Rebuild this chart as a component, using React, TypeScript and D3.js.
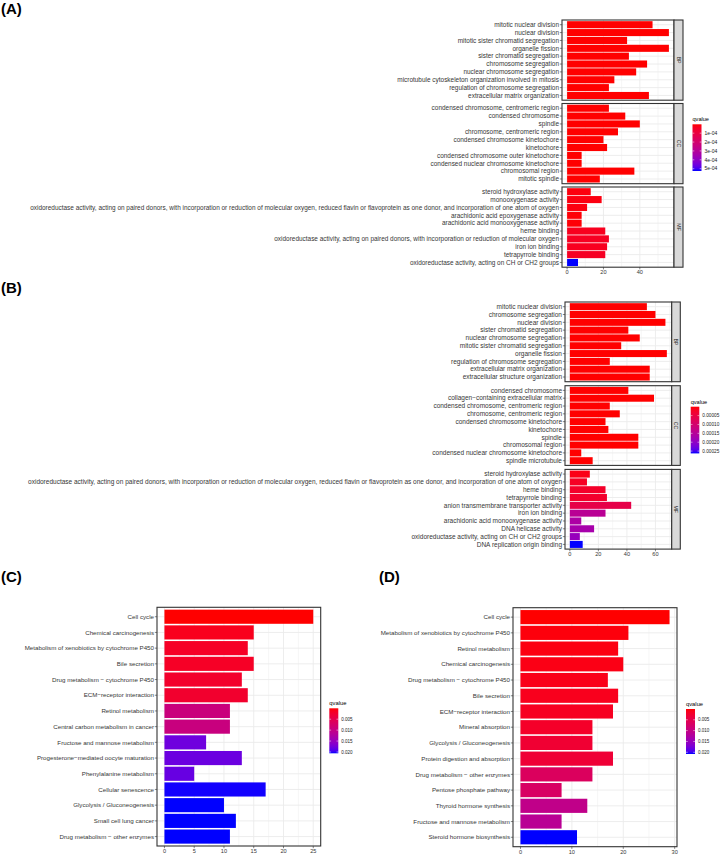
import * as d3 from "d3"

const FONT = "'Liberation Sans', Arial, Helvetica, sans-serif"
const GRID = "#EBEBEB"
const BORDER = "#333333"
const AXIS_TXT = "#363636"

// ---- (A) GO enrichment ----
const aBpTerms = [
  "mitotic nuclear division",
  "nuclear division",
  "mitotic sister chromatid segregation",
  "organelle fission",
  "sister chromatid segregation",
  "chromosome segregation",
  "nuclear chromosome segregation",
  "microtubule cytoskeleton organization involved in mitosis",
  "regulation of chromosome segregation",
  "extracellular matrix organization",
]
const aBpCounts = [47, 56, 33, 56, 34, 44, 38, 26, 23, 45]
const aBpQ = [1e-20, 1e-20, 1e-18, 1e-18, 1e-17, 1e-16, 1e-15, 1e-12, 1e-11, 1e-13]

const aCcTerms = [
  "condensed chromosome, centromeric region",
  "condensed chromosome",
  "spindle",
  "chromosome, centromeric region",
  "condensed chromosome kinetochore",
  "kinetochore",
  "condensed chromosome outer kinetochore",
  "condensed nuclear chromosome kinetochore",
  "chromosomal region",
  "mitotic spindle",
]
const aCcCounts = [23, 32, 40, 28, 20, 22, 8, 8, 37, 18]
const aCcQ = [1e-14, 1e-14, 1e-13, 1e-13, 1e-12, 1e-12, 1e-9, 1e-9, 1e-9, 1e-8]

const aMfTerms = [
  "steroid hydroxylase activity",
  "monooxygenase activity",
  "oxidoreductase activity, acting on paired donors, with incorporation or reduction of molecular oxygen, reduced flavin or flavoprotein as one donor, and incorporation of one atom of oxygen",
  "arachidonic acid epoxygenase activity",
  "arachidonic acid monooxygenase activity",
  "heme binding",
  "oxidoreductase activity, acting on paired donors, with incorporation or reduction of molecular oxygen",
  "iron ion binding",
  "tetrapyrrole binding",
  "oxidoreductase activity, acting on CH or CH2 groups",
]
const aMfCounts = [13, 19, 11, 8, 8, 21, 23, 22, 21, 6]
const aMfQ = [1.2e-5, 1.5e-5, 1.4e-5, 6e-6, 6e-6, 3.2e-5, 3.8e-5, 3.6e-5, 4.2e-5, 5.26e-4]

const aTicks = [0, 20, 40]
const aLegendTicks = [1e-4, 2e-4, 3e-4, 4e-4, 5e-4]
const aLegendLabels = ["1e-04", "2e-04", "3e-04", "4e-04", "5e-04"]

// ---- (B) GO enrichment ----
const bBpTerms = [
  "mitotic nuclear division",
  "chromosome segregation",
  "nuclear division",
  "sister chromatid segregation",
  "nuclear chromosome segregation",
  "mitotic sister chromatid segregation",
  "organelle fission",
  "regulation of chromosome segregation",
  "extracellular matrix organization",
  "extracellular structure organization",
]
const bBpCounts = [54, 60, 67, 41, 49, 36, 68, 28, 56, 56]
const bBpQ = [1e-20, 1e-20, 1e-19, 1e-18, 1e-18, 1e-17, 1e-17, 1e-15, 1e-14, 1e-14]

const bCcTerms = [
  "condensed chromosome",
  "collagen\u2212containing extracellular matrix",
  "condensed chromosome, centromeric region",
  "chromosome, centromeric region",
  "condensed chromosome kinetochore",
  "kinetochore",
  "spindle",
  "chromosomal region",
  "condensed nuclear chromosome kinetochore",
  "spindle microtubule",
]
const bCcCounts = [41, 59, 28, 35, 25, 27, 48, 48, 8, 16]
const bCcQ = [1e-13, 1e-13, 1e-12, 1e-12, 1e-11, 1e-11, 1e-10, 1e-10, 1e-8, 1e-8]

const bMfTerms = [
  "steroid hydroxylase activity",
  "oxidoreductase activity, acting on paired donors, with incorporation or reduction of molecular oxygen, reduced flavin or flavoprotein as one donor, and incorporation of one atom of oxygen",
  "heme binding",
  "tetrapyrrole binding",
  "anion transmembrane transporter activity",
  "iron ion binding",
  "arachidonic acid monooxygenase activity",
  "DNA helicase activity",
  "oxidoreductase activity, acting on CH or CH2 groups",
  "DNA replication origin binding",
]
const bMfCounts = [14, 12, 25, 26, 43, 25, 8, 17, 7, 9]
const bMfQ = [1.05e-5, 2.1e-5, 2.6e-5, 2.9e-5, 5.8e-5, 1.45e-4, 1.63e-4, 1.71e-4, 1.9e-4, 2.63e-4]

const bTicks = [0, 20, 40, 60]
const bLegendTicks = [5e-5, 1e-4, 1.5e-4, 2e-4, 2.5e-4]
const bLegendLabels = ["0.00005", "0.00010", "0.00015", "0.00020", "0.00025"]

// ---- (C) KEGG ----
const cTerms = [
  "Cell cycle",
  "Chemical carcinogenesis",
  "Metabolism of xenobiotics by cytochrome P450",
  "Bile secretion",
  "Drug metabolism \u2212 cytochrome P450",
  "ECM\u2212receptor interaction",
  "Retinol metabolism",
  "Central carbon metabolism in cancer",
  "Fructose and mannose metabolism",
  "Progesterone\u2212mediated oocyte maturation",
  "Phenylalanine metabolism",
  "Cellular senescence",
  "Glycolysis / Gluconeogenesis",
  "Small cell lung cancer",
  "Drug metabolism \u2212 other enzymes",
]
const cCounts = [25, 15, 14, 15, 13, 14, 11, 11, 7, 13, 5, 17, 10, 12, 11]
const cQ = [0.00001, 0.0012, 0.0018, 0.0018, 0.0022, 0.0024, 0.0092, 0.0094, 0.0178, 0.018, 0.0182, 0.0205, 0.0206, 0.0206, 0.0206]
const cTicks = [0, 5, 10, 15, 20, 25]

// ---- (D) KEGG ----
const dTerms = [
  "Cell cycle",
  "Metabolism of xenobiotics by cytochrome P450",
  "Retinol metabolism",
  "Chemical carcinogenesis",
  "Drug metabolism \u2212 cytochrome P450",
  "Bile secretion",
  "ECM\u2212receptor interaction",
  "Mineral absorption",
  "Glycolysis / Gluconeogenesis",
  "Protein digestion and absorption",
  "Drug metabolism \u2212 other enzymes",
  "Pentose phosphate pathway",
  "Thyroid hormone synthesis",
  "Fructose and mannose metabolism",
  "Steroid hormone biosynthesis",
]
const dCounts = [29, 21, 19, 20, 17, 19, 18, 14, 14, 18, 14, 8, 13, 8, 11]
const dQ = [0.00001, 0.0004, 0.0006, 0.0008, 0.001, 0.0012, 0.0015, 0.002, 0.0028, 0.003, 0.0065, 0.007, 0.0105, 0.0115, 0.0208]
const dTicks = [0, 10, 20, 30]
const kLegendTicks = [0.005, 0.01, 0.015, 0.02]
const kLegendLabels = ["0.005", "0.010", "0.015", "0.020"]

type Facet = { name: string; terms: string[]; counts: number[]; q: number[] }

function qColor(domain: [number, number]) {
  return d3.scaleLinear<string>()
    .domain(domain)
    .range(["#FF0000", "#0000FF"])
    .interpolate(d3.interpolateLab)
    .clamp(true)
}

function BarChart({ facets, x0, x1, top, panelH, gap, ticks, strip, stripW, labelSize, tickSize, qDomain }: {
  facets: Facet[]; x0: number; x1: number; top: number; panelH: number; gap: number
  ticks: number[]; strip: boolean; stripW: number; labelSize: number; tickSize: number
  qDomain: [number, number]
}) {
  const xMax = d3.max(facets.flatMap(f => f.counts)) as number
  const x = d3.scaleLinear().domain([-0.05 * xMax, 1.05 * xMax]).range([x0, x1])
  const color = qColor(qDomain)
  const step = ticks[1] - ticks[0]
  const minor = d3.range(ticks[0] - step / 2, xMax * 1.05, step).filter(v => v > -0.05 * xMax)
  const bottom = top + facets.length * panelH + (facets.length - 1) * gap

  return (
    <g>
      {facets.map((f, fi) => {
        const y0 = top + fi * (panelH + gap)
        const y = d3.scaleBand<number>()
          .domain(d3.range(f.terms.length))
          .range([y0, y0 + panelH])
          .paddingInner(0.1)
          .paddingOuter(0.15)
        const bw = y.bandwidth()
        return (
          <g key={fi}>
            <rect x={x0} y={y0} width={x1 - x0} height={panelH} fill="white" />
            {minor.map(v => (
              <line key={"m" + v} x1={x(v)} x2={x(v)} y1={y0} y2={y0 + panelH} stroke={GRID} strokeWidth={0.45} />
            ))}
            {ticks.map(v => (
              <line key={"M" + v} x1={x(v)} x2={x(v)} y1={y0} y2={y0 + panelH} stroke={GRID} strokeWidth={0.9} />
            ))}
            {f.terms.map((_, i) => (
              <line key={"h" + i} x1={x0} x2={x1} y1={(y(i) as number) + bw / 2} y2={(y(i) as number) + bw / 2} stroke={GRID} strokeWidth={0.9} />
            ))}
            {f.counts.map((c, i) => (
              <rect key={"b" + i} x={x(0)} y={y(i)} width={x(c) - x(0)} height={bw} fill={color(f.q[i])} />
            ))}
            <rect x={x0} y={y0} width={x1 - x0} height={panelH} fill="none" stroke={BORDER} strokeWidth={1.1} />
            {strip && (
              <g>
                <rect x={x1} y={y0} width={stripW} height={panelH} fill="#D9D9D9" stroke={BORDER} strokeWidth={1.1} />
                <text
                  transform={`translate(${x1 + stripW / 2},${y0 + panelH / 2}) rotate(90)`}
                  textAnchor="middle" dy="0.35em" fontSize={5.2} fill="#1A1A1A"
                >{f.name}</text>
              </g>
            )}
            {f.terms.map((t, i) => {
              const cy = (y(i) as number) + bw / 2
              return (
                <g key={"l" + i}>
                  <line x1={x0 - 2.2} x2={x0} y1={cy} y2={cy} stroke={BORDER} strokeWidth={0.6} />
                  <text x={x0 - 3} y={cy} dy="0.35em" textAnchor="end" fontSize={labelSize} fill={AXIS_TXT}>{t}</text>
                </g>
              )
            })}
          </g>
        )
      })}
      {ticks.map(v => (
        <g key={"xt" + v}>
          <line x1={x(v)} x2={x(v)} y1={bottom} y2={bottom + 2.2} stroke={BORDER} strokeWidth={0.6} />
          <text x={x(v)} y={bottom + 3 + tickSize * 0.75} textAnchor="middle" fontSize={tickSize} fill={AXIS_TXT}>{v}</text>
        </g>
      ))}
    </g>
  )
}

function Legend({ id, x, y, w, h, domain, ticks, labels, titleSize, textSize }: {
  id: string; x: number; y: number; w: number; h: number; domain: [number, number]
  ticks: number[]; labels: string[]; titleSize: number; textSize: number
}) {
  const color = qColor(domain)
  const ys = d3.scaleLinear().domain(domain).range([y, y + h])
  const stops = d3.range(0, 1.0001, 0.05)
  return (
    <g>
      <defs>
        <linearGradient id={id} x1="0" y1="0" x2="0" y2="1">
          {stops.map(t => (
            <stop key={t} offset={t} stopColor={color(domain[0] + t * (domain[1] - domain[0]))} />
          ))}
        </linearGradient>
      </defs>
      <text x={x} y={y - 3.2} fontSize={titleSize} fill="#000">qvalue</text>
      <rect x={x} y={y} width={w} height={h} fill={`url(#${id})`} />
      {ticks.map((t, i) => (
        <g key={i}>
          <line x1={x} x2={x + 1.8} y1={ys(t)} y2={ys(t)} stroke="white" strokeWidth={0.5} />
          <line x1={x + w - 1.8} x2={x + w} y1={ys(t)} y2={ys(t)} stroke="white" strokeWidth={0.5} />
          <text x={x + w + 3} y={ys(t)} dy="0.35em" fontSize={textSize} fill="#1A1A1A">{labels[i]}</text>
        </g>
      ))}
    </g>
  )
}

function Tag({ x, y, text }: { x: number; y: number; text: string }) {
  return <text x={x} y={y} fontSize={15} fontWeight="bold" fill="#000">{text}</text>
}

function extentOf(qs: number[][]): [number, number] {
  const all = qs.flat()
  return [d3.min(all) as number, d3.max(all) as number]
}

export default function App() {
  const aFacets: Facet[] = [
    { name: "BP", terms: aBpTerms, counts: aBpCounts, q: aBpQ },
    { name: "CC", terms: aCcTerms, counts: aCcCounts, q: aCcQ },
    { name: "MF", terms: aMfTerms, counts: aMfCounts, q: aMfQ },
  ]
  const bFacets: Facet[] = [
    { name: "BP", terms: bBpTerms, counts: bBpCounts, q: bBpQ },
    { name: "CC", terms: bCcTerms, counts: bCcCounts, q: bCcQ },
    { name: "MF", terms: bMfTerms, counts: bMfCounts, q: bMfQ },
  ]
  const aDom = extentOf([aBpQ, aCcQ, aMfQ])
  const bDom = extentOf([bBpQ, bCcQ, bMfQ])
  const cDom = extentOf([cQ])
  const dDom = extentOf([dQ])

  return (
    <svg width={720} height={855} style={{ position: "absolute", left: 0, top: 0 }} fontFamily={FONT}>
      <rect width={720} height={855} fill="white" />

      <Tag x={1} y={13.5} text="(A)" />
      <BarChart facets={aFacets} x0={562} x1={674} top={20} panelH={80.2} gap={3.3}
        ticks={aTicks} strip={true} stripW={9} labelSize={6.45} tickSize={5.6} qDomain={aDom} />
      <Legend id="gA" x={692.5} y={124.3} w={9} h={46.7} domain={aDom}
        ticks={aLegendTicks} labels={aLegendLabels} titleSize={5.6} textSize={5} />

      <Tag x={1} y={292.5} text="(B)" />
      <BarChart facets={bFacets} x0={565} x1={671.7} top={302} panelH={79.7} gap={4}
        ticks={bTicks} strip={true} stripW={8.6} labelSize={6.5} tickSize={5.6} qDomain={bDom} />
      <Legend id="gB" x={690.7} y={406.7} w={8.6} h={46.7} domain={bDom}
        ticks={bLegendTicks} labels={bLegendLabels} titleSize={5.6} textSize={4.7} />

      <Tag x={1} y={582} text="(C)" />
      <BarChart facets={[{ name: "", terms: cTerms, counts: cCounts, q: cQ }]} x0={157} x1={320.7} top={607.3} panelH={238.7} gap={0}
        ticks={cTicks} strip={false} stripW={0} labelSize={6.2} tickSize={5.6} qDomain={cDom} />
      <Legend id="gC" x={329.3} y={708.3} w={9} h={45} domain={cDom}
        ticks={kLegendTicks} labels={kLegendLabels} titleSize={5.8} textSize={4.5} />

      <Tag x={379} y={582} text="(D)" />
      <BarChart facets={[{ name: "", terms: dTerms, counts: dCounts, q: dQ }]} x0={513} x1={677} top={607.7} panelH={239} gap={0}
        ticks={dTicks} strip={false} stripW={0} labelSize={6.2} tickSize={5.6} qDomain={dDom} />
      <Legend id="gD" x={686} y={709} w={9} h={45} domain={dDom}
        ticks={kLegendTicks} labels={kLegendLabels} titleSize={5.8} textSize={4.5} />
    </svg>
  )
}
